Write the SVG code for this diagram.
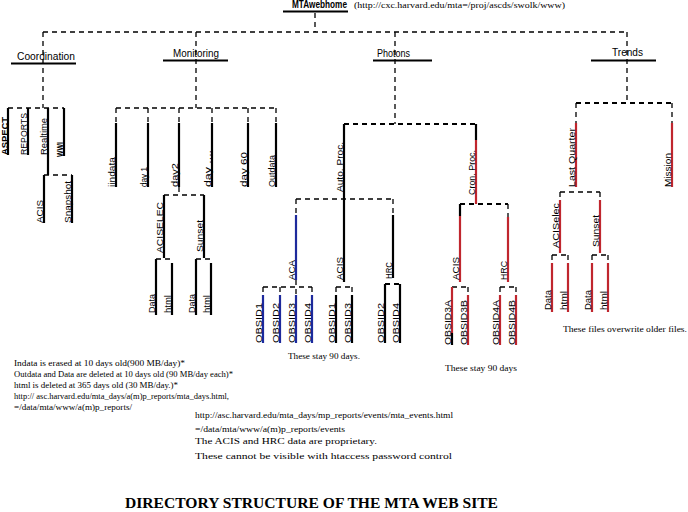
<svg xmlns="http://www.w3.org/2000/svg" width="688" height="512" viewBox="0 0 688 512">
<style>
.bg{fill:#ffffff}
.d{stroke:#000;stroke-width:1.3;stroke-dasharray:5,4;fill:none}
.dt{stroke:#000;stroke-width:2.2;stroke-dasharray:5,4;fill:none}
.s{stroke:#000;stroke-width:2.2;fill:none}
.b{stroke:#1e2a9c;stroke-width:2.2;fill:none}
.r{stroke:#c0262e;stroke-width:2.2;fill:none}
.h{font-family:"Liberation Sans",Arial,sans-serif;font-size:10px;fill:#000}
.v{font-family:"Liberation Sans",Arial,sans-serif;font-size:9px;fill:#000}
.vb{font-family:"Liberation Sans",Arial,sans-serif;font-size:9px;font-weight:bold;fill:#000}
.n{font-family:"Liberation Serif","Times New Roman",serif;font-size:8.5px;fill:#000}
.t{font-family:"Liberation Serif","Times New Roman",serif;font-size:15px;font-weight:bold;fill:#000}
</style>
<rect class="bg" x="0" y="0" width="688" height="512"/>

<g id="connectors">
  <line class="d" x1="315" y1="13" x2="315" y2="32"/>
  <line class="d" x1="43" y1="32" x2="627" y2="32"/>
  <line class="d" x1="43" y1="32" x2="43" y2="108"/>
  <line class="d" x1="196" y1="32" x2="196" y2="108"/>
  <line class="d" x1="395" y1="32" x2="395" y2="124"/>
  <line class="d" x1="627" y1="32" x2="627" y2="103"/>
  <line class="d" x1="8" y1="108" x2="64" y2="108"/>
  <line class="d" x1="44" y1="175" x2="72" y2="175"/>
  <line class="d" x1="116" y1="108" x2="276" y2="108"/>
  <line class="d" x1="116" y1="108" x2="116" y2="123"/>
  <line class="d" x1="148" y1="108" x2="148" y2="123"/>
  <line class="d" x1="179" y1="108" x2="179" y2="123"/>
  <line class="d" x1="212" y1="108" x2="212" y2="123"/>
  <line class="d" x1="248" y1="108" x2="248" y2="123"/>
  <line class="d" x1="276" y1="108" x2="276" y2="123"/>
  <line class="d" x1="179" y1="187" x2="179" y2="195"/>
  <line class="d" x1="164" y1="195" x2="204" y2="195"/>
  <line class="d" x1="156" y1="259" x2="172" y2="259"/>
  <line class="d" x1="196" y1="259" x2="211" y2="259"/>
  <line class="dt" x1="344" y1="124" x2="476" y2="124"/>
  <line class="d" x1="296" y1="199" x2="393" y2="199"/>
  <line class="d" x1="296" y1="199" x2="296" y2="215"/>
  <line class="d" x1="393" y1="199" x2="393" y2="215"/>
  <line class="d" x1="263" y1="287" x2="312" y2="287"/>
  <line class="d" x1="263" y1="287" x2="263" y2="295"/>
  <line class="d" x1="280" y1="287" x2="280" y2="295"/>
  <line class="d" x1="296" y1="280" x2="296" y2="295"/>
  <line class="d" x1="312" y1="287" x2="312" y2="295"/>
  <line class="d" x1="336" y1="287" x2="352" y2="287"/>
  <line class="d" x1="336" y1="287" x2="336" y2="295"/>
  <line class="d" x1="352" y1="287" x2="352" y2="295"/>
  <line class="dt" x1="385" y1="284" x2="400" y2="284"/>
  <line class="dt" x1="460" y1="204" x2="508" y2="204"/>
  <line class="d" x1="508" y1="204" x2="508" y2="217"/>
  <line class="d" x1="452" y1="287" x2="468" y2="287"/>
  <line class="d" x1="468" y1="287" x2="468" y2="295"/>
  <line class="d" x1="500" y1="287" x2="516" y2="287"/>
  <line class="d" x1="500" y1="287" x2="500" y2="295"/>
  <line class="d" x1="516" y1="287" x2="516" y2="295"/>
  <line class="dt" x1="576" y1="103" x2="672" y2="103"/>
  <line class="d" x1="576" y1="103" x2="576" y2="123"/>
  <line class="d" x1="672" y1="103" x2="672" y2="123"/>
  <line class="d" x1="560" y1="192" x2="600" y2="192"/>
  <line class="d" x1="560" y1="192" x2="560" y2="200"/>
  <line class="d" x1="600" y1="192" x2="600" y2="200"/>
  <line class="d" x1="552" y1="255" x2="568" y2="255"/>
  <line class="d" x1="552" y1="255" x2="552" y2="263"/>
  <line class="d" x1="568" y1="255" x2="568" y2="263"/>
  <line class="d" x1="592" y1="255" x2="608" y2="255"/>
  <line class="d" x1="592" y1="255" x2="592" y2="263"/>
  <line class="d" x1="608" y1="255" x2="608" y2="263"/>
</g>

<g id="n-mtawebhome">
  <text class="h" x="292" y="8" font-weight="bold" textLength="55" lengthAdjust="spacingAndGlyphs">MTAwebhome</text>
  <line class="s" x1="283" y1="11.5" x2="348" y2="11.5"/>
  <text class="n" x="354" y="8" textLength="211" lengthAdjust="spacingAndGlyphs">(http://cxc.harvard.edu/mta=/proj/ascds/swolk/www)</text>
</g>

<g id="n-coordination">
  <text class="h" x="17" y="60" textLength="58" lengthAdjust="spacingAndGlyphs">Coordination</text>
  <line class="s" x1="11" y1="63.5" x2="76" y2="63.5"/>
</g>
<g id="n-aspect">
  <line class="s" x1="8" y1="108" x2="8" y2="155"/>
  <text class="vb" transform="translate(7.8,155) rotate(-90)" textLength="38" lengthAdjust="spacingAndGlyphs">ASPECT</text>
</g>
<g id="n-reports">
  <line class="s" x1="28" y1="108" x2="28" y2="155"/>
  <text class="v" transform="translate(27,155) rotate(-90)" textLength="42" lengthAdjust="spacingAndGlyphs">REPORTS</text>
</g>
<g id="n-realtime">
  <line class="s" x1="48" y1="108" x2="48" y2="175"/>
  <text class="v" transform="translate(47,155) rotate(-90)" textLength="37" lengthAdjust="spacingAndGlyphs">Realtime</text>
</g>
<g id="n-wwi">
  <line class="s" x1="64" y1="108" x2="64" y2="156"/>
  <text class="vb" transform="translate(63,157) rotate(-90)" textLength="15" lengthAdjust="spacingAndGlyphs">WWI</text>
</g>
<g id="n-coord-acis">
  <line class="s" x1="44" y1="175" x2="44" y2="223"/>
  <text class="v" transform="translate(43,223) rotate(-90)" textLength="23" lengthAdjust="spacingAndGlyphs">ACIS</text>
</g>
<g id="n-snapshot">
  <line class="s" x1="72" y1="175" x2="72" y2="223"/>
  <text class="v" transform="translate(71,223) rotate(-90)" textLength="42" lengthAdjust="spacingAndGlyphs">Snapshot</text>
</g>

<g id="n-monitoring">
  <text class="h" x="173" y="57" textLength="46" lengthAdjust="spacingAndGlyphs">Monitoring</text>
  <line class="s" x1="163" y1="60.5" x2="228" y2="60.5"/>
</g>
<g id="n-iindata">
  <line class="s" x1="116" y1="123" x2="116" y2="187"/>
  <text class="v" transform="translate(115,187) rotate(-90)" textLength="30" lengthAdjust="spacingAndGlyphs">iindata</text>
</g>
<g id="n-day1">
  <line class="s" x1="148" y1="123" x2="148" y2="187"/>
  <text class="v" transform="translate(147,187) rotate(-90)" textLength="20" lengthAdjust="spacingAndGlyphs">day 1</text>
</g>
<g id="n-day2">
  <line class="s" x1="179" y1="123" x2="179" y2="187"/>
  <text class="v" transform="translate(178,187) rotate(-90)" textLength="24" lengthAdjust="spacingAndGlyphs">day2</text>
</g>
<g id="n-dayetc">
  <line class="s" x1="212" y1="123" x2="212" y2="187"/>
  <text class="v" transform="translate(211,187) rotate(-90)" textLength="37" lengthAdjust="spacingAndGlyphs">day ....</text>
</g>
<g id="n-day60">
  <line class="s" x1="248" y1="123" x2="248" y2="187"/>
  <text class="v" transform="translate(247,187) rotate(-90)" textLength="35" lengthAdjust="spacingAndGlyphs">day 60</text>
</g>
<g id="n-outdata">
  <line class="s" x1="276" y1="123" x2="276" y2="187"/>
  <text class="v" transform="translate(275,187) rotate(-90)" textLength="32" lengthAdjust="spacingAndGlyphs">Outdata</text>
</g>
<g id="n-aciselec">
  <line class="s" x1="164" y1="195" x2="164" y2="258"/>
  <text class="v" transform="translate(163,253) rotate(-90)" textLength="51" lengthAdjust="spacingAndGlyphs">ACISELEC</text>
</g>
<g id="n-sunset-m">
  <line class="s" x1="204" y1="195" x2="204" y2="258"/>
  <text class="v" transform="translate(203,252) rotate(-90)" textLength="32" lengthAdjust="spacingAndGlyphs">Sunset</text>
</g>
<g id="n-data-m1">
  <line class="s" x1="156" y1="259" x2="156" y2="315"/>
  <text class="v" transform="translate(155,313) rotate(-90)" textLength="19" lengthAdjust="spacingAndGlyphs">Data</text>
</g>
<g id="n-html-m1">
  <line class="s" x1="172" y1="263" x2="172" y2="315"/>
  <text class="v" transform="translate(171,313) rotate(-90)" textLength="18" lengthAdjust="spacingAndGlyphs">html</text>
</g>
<g id="n-data-m2">
  <line class="s" x1="196" y1="259" x2="196" y2="315"/>
  <text class="v" transform="translate(195,313) rotate(-90)" textLength="19" lengthAdjust="spacingAndGlyphs">Data</text>
</g>
<g id="n-html-m2">
  <line class="s" x1="211" y1="263" x2="211" y2="315"/>
  <text class="v" transform="translate(210,313) rotate(-90)" textLength="18" lengthAdjust="spacingAndGlyphs">html</text>
</g>

<g id="n-photons">
  <text class="h" x="377" y="57" textLength="33" lengthAdjust="spacingAndGlyphs">Photons</text>
  <line class="s" x1="373" y1="60.5" x2="432" y2="60.5"/>
</g>
<g id="n-autoproc">
  <line class="s" x1="344" y1="124" x2="344" y2="199"/>
  <text class="v" transform="translate(343,192) rotate(-90)" textLength="50" lengthAdjust="spacingAndGlyphs">Auto. Proc.</text>
</g>
<g id="n-aca">
  <line class="b" x1="296" y1="215" x2="296" y2="280"/>
  <text class="v" transform="translate(295,280) rotate(-90)" textLength="20" lengthAdjust="spacingAndGlyphs">ACA</text>
</g>
<g id="n-acis-a">
  <line class="s" x1="344" y1="199" x2="344" y2="282"/>
  <text class="v" transform="translate(343,280) rotate(-90)" textLength="23" lengthAdjust="spacingAndGlyphs">ACIS</text>
</g>
<g id="n-hrc-a">
  <line class="s" x1="393" y1="215" x2="393" y2="278"/>
  <text class="v" transform="translate(392,279) rotate(-90)" textLength="17" lengthAdjust="spacingAndGlyphs">HRC</text>
</g>
<g id="n-aca-obsid1">
  <line class="b" x1="263" y1="295" x2="263" y2="343"/>
  <text class="v" transform="translate(262,343) rotate(-90)" textLength="40" lengthAdjust="spacingAndGlyphs">OBSID1</text>
</g>
<g id="n-aca-obsid2">
  <line class="b" x1="280" y1="295" x2="280" y2="343"/>
  <text class="v" transform="translate(279,343) rotate(-90)" textLength="40" lengthAdjust="spacingAndGlyphs">OBSID2</text>
</g>
<g id="n-aca-obsid3">
  <line class="b" x1="296" y1="295" x2="296" y2="343"/>
  <text class="v" transform="translate(295,343) rotate(-90)" textLength="40" lengthAdjust="spacingAndGlyphs">OBSID3</text>
</g>
<g id="n-aca-obsid4">
  <line class="b" x1="312" y1="295" x2="312" y2="343"/>
  <text class="v" transform="translate(311,343) rotate(-90)" textLength="40" lengthAdjust="spacingAndGlyphs">OBSID4</text>
</g>
<g id="n-acis-obsid1">
  <line class="s" x1="336" y1="295" x2="336" y2="343"/>
  <text class="v" transform="translate(335,343) rotate(-90)" textLength="40" lengthAdjust="spacingAndGlyphs">OBSID1</text>
</g>
<g id="n-acis-obsid3">
  <line class="s" x1="352" y1="295" x2="352" y2="343"/>
  <text class="v" transform="translate(351,343) rotate(-90)" textLength="40" lengthAdjust="spacingAndGlyphs">OBSID3</text>
</g>
<g id="n-hrc-obsid2">
  <line class="s" x1="385" y1="284" x2="385" y2="343"/>
  <text class="v" transform="translate(384,343) rotate(-90)" textLength="40" lengthAdjust="spacingAndGlyphs">OBSID2</text>
</g>
<g id="n-hrc-obsid4">
  <line class="s" x1="400" y1="284" x2="400" y2="343"/>
  <text class="v" transform="translate(399,343) rotate(-90)" textLength="40" lengthAdjust="spacingAndGlyphs">OBSID4</text>
</g>
<g id="n-cronproc">
  <line class="s" x1="476" y1="124" x2="476" y2="140"/>
  <line class="r" x1="476" y1="140" x2="476" y2="204"/>
  <text class="v" transform="translate(475,195) rotate(-90)" textLength="45" lengthAdjust="spacingAndGlyphs">Cron. Proc.</text>
</g>
<g id="n-acis-c">
  <line class="s" x1="460" y1="204" x2="460" y2="216"/>
  <line class="r" x1="460" y1="216" x2="460" y2="282"/>
  <text class="v" transform="translate(459,280) rotate(-90)" textLength="23" lengthAdjust="spacingAndGlyphs">ACIS</text>
</g>
<g id="n-hrc-c">
  <line class="r" x1="508" y1="217" x2="508" y2="282"/>
  <text class="v" transform="translate(507,280) rotate(-90)" textLength="19" lengthAdjust="spacingAndGlyphs">HRC</text>
</g>
<g id="n-obsid3a">
  <line class="r" x1="452" y1="287" x2="452" y2="333"/>
  <line class="s" x1="452" y1="333" x2="452" y2="345"/>
  <text class="v" transform="translate(451,345) rotate(-90)" textLength="45" lengthAdjust="spacingAndGlyphs">OBSID3A</text>
</g>
<g id="n-obsid3b">
  <line class="r" x1="468" y1="295" x2="468" y2="345"/>
  <text class="v" transform="translate(467,345) rotate(-90)" textLength="45" lengthAdjust="spacingAndGlyphs">OBSID3B</text>
</g>
<g id="n-obsid4a">
  <line class="r" x1="500" y1="295" x2="500" y2="345"/>
  <text class="v" transform="translate(499,345) rotate(-90)" textLength="45" lengthAdjust="spacingAndGlyphs">OBSID4A</text>
</g>
<g id="n-obsid4b">
  <line class="r" x1="516" y1="295" x2="516" y2="345"/>
  <text class="v" transform="translate(515,345) rotate(-90)" textLength="45" lengthAdjust="spacingAndGlyphs">OBSID4B</text>
</g>

<g id="n-trends">
  <text class="h" x="612" y="56" textLength="31" lengthAdjust="spacingAndGlyphs">Trends</text>
  <line class="s" x1="591" y1="60.5" x2="656" y2="60.5"/>
</g>
<g id="n-lastquarter">
  <line class="r" x1="576" y1="123" x2="576" y2="187"/>
  <text class="v" transform="translate(575,187) rotate(-90)" textLength="59" lengthAdjust="spacingAndGlyphs">Last Quarter</text>
</g>
<g id="n-mission">
  <line class="r" x1="672" y1="123" x2="672" y2="187"/>
  <text class="v" transform="translate(671,187) rotate(-90)" textLength="34" lengthAdjust="spacingAndGlyphs">Mission</text>
</g>
<g id="n-aciselec-t">
  <line class="r" x1="560" y1="200" x2="560" y2="253"/>
  <text class="v" transform="translate(559,248) rotate(-90)" textLength="45" lengthAdjust="spacingAndGlyphs">ACISelec</text>
</g>
<g id="n-sunset-t">
  <line class="r" x1="600" y1="200" x2="600" y2="253"/>
  <text class="v" transform="translate(599,247) rotate(-90)" textLength="32" lengthAdjust="spacingAndGlyphs">Sunset</text>
</g>
<g id="n-data-t1">
  <line class="r" x1="552" y1="263" x2="552" y2="312"/>
  <text class="v" transform="translate(551,310) rotate(-90)" textLength="20" lengthAdjust="spacingAndGlyphs">Data</text>
</g>
<g id="n-html-t1">
  <line class="r" x1="568" y1="263" x2="568" y2="312"/>
  <text class="v" transform="translate(567,310) rotate(-90)" textLength="19" lengthAdjust="spacingAndGlyphs">html</text>
</g>
<g id="n-data-t2">
  <line class="r" x1="592" y1="263" x2="592" y2="312"/>
  <text class="v" transform="translate(591,310) rotate(-90)" textLength="20" lengthAdjust="spacingAndGlyphs">Data</text>
</g>
<g id="n-html-t2">
  <line class="r" x1="608" y1="263" x2="608" y2="312"/>
  <text class="v" transform="translate(607,310) rotate(-90)" textLength="19" lengthAdjust="spacingAndGlyphs">html</text>
</g>

<g id="notes">
  <text class="n" x="288" y="359" textLength="72" lengthAdjust="spacingAndGlyphs">These stay 90 days.</text>
  <text class="n" x="445" y="371" textLength="72" lengthAdjust="spacingAndGlyphs">These stay 90 days</text>
  <text class="n" x="563" y="332" textLength="124" lengthAdjust="spacingAndGlyphs">These files overwrite older files.</text>
  <text class="n" x="14" y="366" textLength="171" lengthAdjust="spacingAndGlyphs">Indata is erased at 10 days old(900 MB/day)*</text>
  <text class="n" x="14" y="377" textLength="219" lengthAdjust="spacingAndGlyphs">Outdata and Data are deleted at 10 days old  (90 MB/day each)*</text>
  <text class="n" x="14" y="388" textLength="164" lengthAdjust="spacingAndGlyphs">html is deleted at 365 days old (30 MB/day.)*</text>
  <text class="n" x="14" y="399" textLength="215" lengthAdjust="spacingAndGlyphs">http:// asc.harvard.edu/mta_days/a(m)p_reports/mta_days.html,</text>
  <text class="n" x="14" y="410" textLength="118" lengthAdjust="spacingAndGlyphs">=/data/mta/www/a(m)p_reports/</text>
  <text class="n" x="195" y="418" textLength="258" lengthAdjust="spacingAndGlyphs">http://asc.harvard.edu/mta_days/mp_reports/events/mta_events.html</text>
  <text class="n" x="195" y="432" textLength="150" lengthAdjust="spacingAndGlyphs">=/data/mta/www/a(m)p_reports/events</text>
  <text class="n" x="195" y="444" textLength="182" lengthAdjust="spacingAndGlyphs">The ACIS and HRC data are proprietary.</text>
  <text class="n" x="195" y="459" textLength="257" lengthAdjust="spacingAndGlyphs">These cannot be visible with htaccess password control</text>
  <text class="t" x="125" y="508" textLength="373" lengthAdjust="spacingAndGlyphs">DIRECTORY STRUCTURE OF THE MTA WEB SITE</text>
</g>
</svg>
